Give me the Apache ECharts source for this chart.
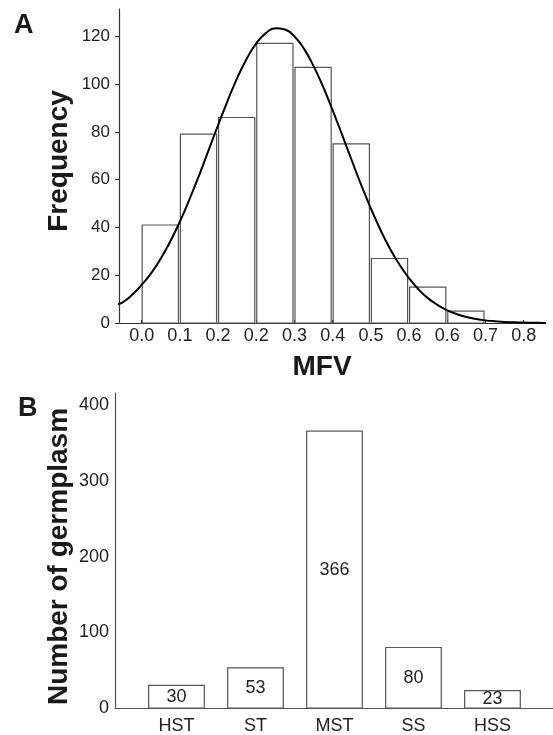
<!DOCTYPE html>
<html>
<head>
<meta charset="utf-8">
<script src="https://cdn.jsdelivr.net/npm/echarts@6/dist/echarts.min.js"></script>
<style>
html,body{margin:0;padding:0;background:#fff;}
#chart{width:553px;height:735px;}
</style>
</head>
<body>
<div id="chart"></div>
<script>
// ---- Panel A: histogram of MFV ----
const binStarts = [0.00, 0.08, 0.16, 0.24, 0.32, 0.40, 0.48, 0.56, 0.64];
const binWidth = 0.08;
const binCounts = [41, 79, 86, 117, 107, 75, 27, 15, 5];
const mfvTickValues = [0.00, 0.08, 0.16, 0.24, 0.32, 0.40, 0.48, 0.56, 0.64, 0.72, 0.80];
const mfvTickLabels = ['0.0', '0.1', '0.2', '0.2', '0.3', '0.4', '0.5', '0.6', '0.6', '0.7', '0.8'];
const freqTickValues = [0, 20, 40, 60, 80, 100, 120];
// fitted normal curve
const curveX = [-0.05, -0.04, -0.02, 0.00, 0.02, 0.04, 0.06, 0.08, 0.10, 0.12, 0.14, 0.16, 0.18, 0.20, 0.22, 0.24, 0.26, 0.28, 0.30, 0.32, 0.34, 0.36, 0.38, 0.40, 0.42, 0.44, 0.46, 0.48, 0.50, 0.52, 0.54, 0.56, 0.58, 0.60, 0.62, 0.64, 0.66, 0.68, 0.70, 0.72, 0.74, 0.76, 0.78, 0.80, 0.82, 0.84, 0.85];
const curveY = [7.9, 8.6, 11.8, 16.0, 20.9, 27.0, 34.2, 42.4, 51.7, 61.7, 72.2, 82.8, 93.0, 102.5, 110.6, 117.0, 121.3, 123.3, 122.8, 119.9, 114.7, 107.5, 98.8, 89.0, 78.6, 68.0, 57.6, 47.9, 39.0, 31.1, 24.4, 18.7, 14.0, 10.3, 7.5, 5.3, 3.7, 2.5, 1.7, 1.1, 0.7, 0.4, 0.3, 0.2, 0.1, 0.05, 0.04];

// ---- Panel B: germplasm classes ----
const categories = ['HST', 'ST', 'MST', 'SS', 'HSS'];
const germCounts = [30, 53, 366, 80, 23];
const germTickValues = [0, 100, 200, 300, 400];

const FONT = 'Liberation Sans, Arial, Helvetica, sans-serif';
const chart = echarts.init(document.getElementById('chart'), null, {renderer: 'canvas'});

const option = {
  animation: false,
  backgroundColor: '#fff',
  graphic: [
    {type: 'text', left: 14, top: 12, style: {text: 'A', font: 'bold 27px ' + FONT, fill: '#1a1a1a'}},
    {type: 'text', left: 18, top: 395, style: {text: 'B', font: 'bold 27px ' + FONT, fill: '#1a1a1a'}}
  ],
  grid: [
    {left: 119, right: 8, top: 9, bottom: 412, containLabel: false},
    {left: 115, right: 0, top: 393, bottom: 25.5, containLabel: false}
  ],
  xAxis: [
    {
      gridIndex: 0, type: 'value', min: -0.0475, max: 0.8446,
      name: 'MFV', nameLocation: 'middle', nameGap: 30, nameMoveOverlap: false,
      nameTextStyle: {fontFamily: FONT, fontWeight: 'bold', fontSize: 28, color: '#1a1a1a', padding: [0, 20, 0, 0]},
      axisLine: {show: true, onZero: false, lineStyle: {color: '#333', width: 1.2}},
      axisTick: {show: true, inside: true, length: 3, customValues: mfvTickValues, lineStyle: {color: '#333'}},
      axisLabel: {
        customValues: mfvTickValues, margin: 4, fontFamily: FONT, fontSize: 18, color: '#222',
        formatter: function (v) { return mfvTickLabels[Math.round(v / 0.08)]; }
      },
      splitLine: {show: false}
    },
    {
      gridIndex: 1, type: 'value', min: -0.778, max: 4.766,
      axisLine: {show: true, onZero: false, lineStyle: {color: '#555', width: 1.2}},
      axisTick: {show: false},
      axisLabel: {
        customValues: [0, 1, 2, 3, 4], margin: 9, fontFamily: FONT, fontSize: 18, color: '#222',
        formatter: function (v) { return categories[Math.round(v)]; }
      },
      splitLine: {show: false}
    }
  ],
  yAxis: [
    {
      gridIndex: 0, type: 'value', min: 0, max: 131.4,
      name: 'Frequency', nameLocation: 'middle', nameGap: 46, nameMoveOverlap: false,
      nameTextStyle: {fontFamily: FONT, fontWeight: 'bold', fontSize: 28, color: '#1a1a1a', padding: [0, 0, 0, 10]},
      axisLine: {show: true, onZero: false, lineStyle: {color: '#333', width: 1.2}},
      axisTick: {show: true, length: 4, customValues: freqTickValues, lineStyle: {color: '#333'}},
      axisLabel: {customValues: freqTickValues, margin: 9, fontFamily: FONT, fontSize: 17, color: '#222'},
      splitLine: {show: false}
    },
    {
      gridIndex: 1, type: 'value', min: 0, max: 416.4,
      name: 'Number of germplasm', nameLocation: 'middle', nameGap: 42, nameMoveOverlap: false,
      nameTextStyle: {fontFamily: FONT, fontWeight: 'bold', fontSize: 28, color: '#1a1a1a', padding: [0, 12, 0, 0]},
      axisLine: {show: true, onZero: false, lineStyle: {color: '#555', width: 1.2}},
      axisTick: {show: false},
      axisLabel: {customValues: germTickValues, margin: 6, fontFamily: FONT, fontSize: 18, color: '#222'},
      splitLine: {show: false}
    }
  ],
  series: [
    {
      type: 'custom', xAxisIndex: 0, yAxisIndex: 0, z: 2,
      data: binStarts.map(function (s, i) { return [s, s + binWidth, binCounts[i]]; }),
      encode: {x: [0, 1], y: 2},
      renderItem: function (params, api) {
        const p0 = api.coord([api.value(0), api.value(2)]);
        const p1 = api.coord([api.value(1), 0]);
        return {
          type: 'rect',
          shape: {x: p0[0] + 0.5, y: p0[1], width: p1[0] - p0[0] - 2, height: p1[1] - p0[1]},
          style: {fill: '#fff', stroke: '#555', lineWidth: 1.2}
        };
      }
    },
    {
      type: 'line', xAxisIndex: 0, yAxisIndex: 0, z: 5,
      data: curveX.map(function (x, i) { return [x, curveY[i]]; }),
      showSymbol: false, smooth: true, clip: true,
      lineStyle: {color: '#000', width: 2}
    },
    {
      type: 'custom', xAxisIndex: 1, yAxisIndex: 1, z: 2,
      data: germCounts.map(function (v, i) { return [i, v]; }),
      encode: {x: 0, y: 1},
      renderItem: function (params, api) {
        const top = api.coord([api.value(0), api.value(1)]);
        const base = api.coord([api.value(0), 0]);
        const w = api.size([0.704, 0])[0];
        return {
          type: 'group',
          children: [
            {
              type: 'rect',
              shape: {x: top[0] - w / 2, y: top[1], width: w, height: base[1] - top[1]},
              style: {fill: '#fff', stroke: '#555', lineWidth: 1.2}
            },
            {
              type: 'text', z2: 10,
              style: {
                text: String(api.value(1)), x: top[0], y: (top[1] + base[1]) / 2,
                align: 'center', verticalAlign: 'middle',
                font: '18px ' + FONT, fill: '#222'
              }
            }
          ]
        };
      }
    }
  ]
};
chart.setOption(option);
</script>
</body>
</html>
